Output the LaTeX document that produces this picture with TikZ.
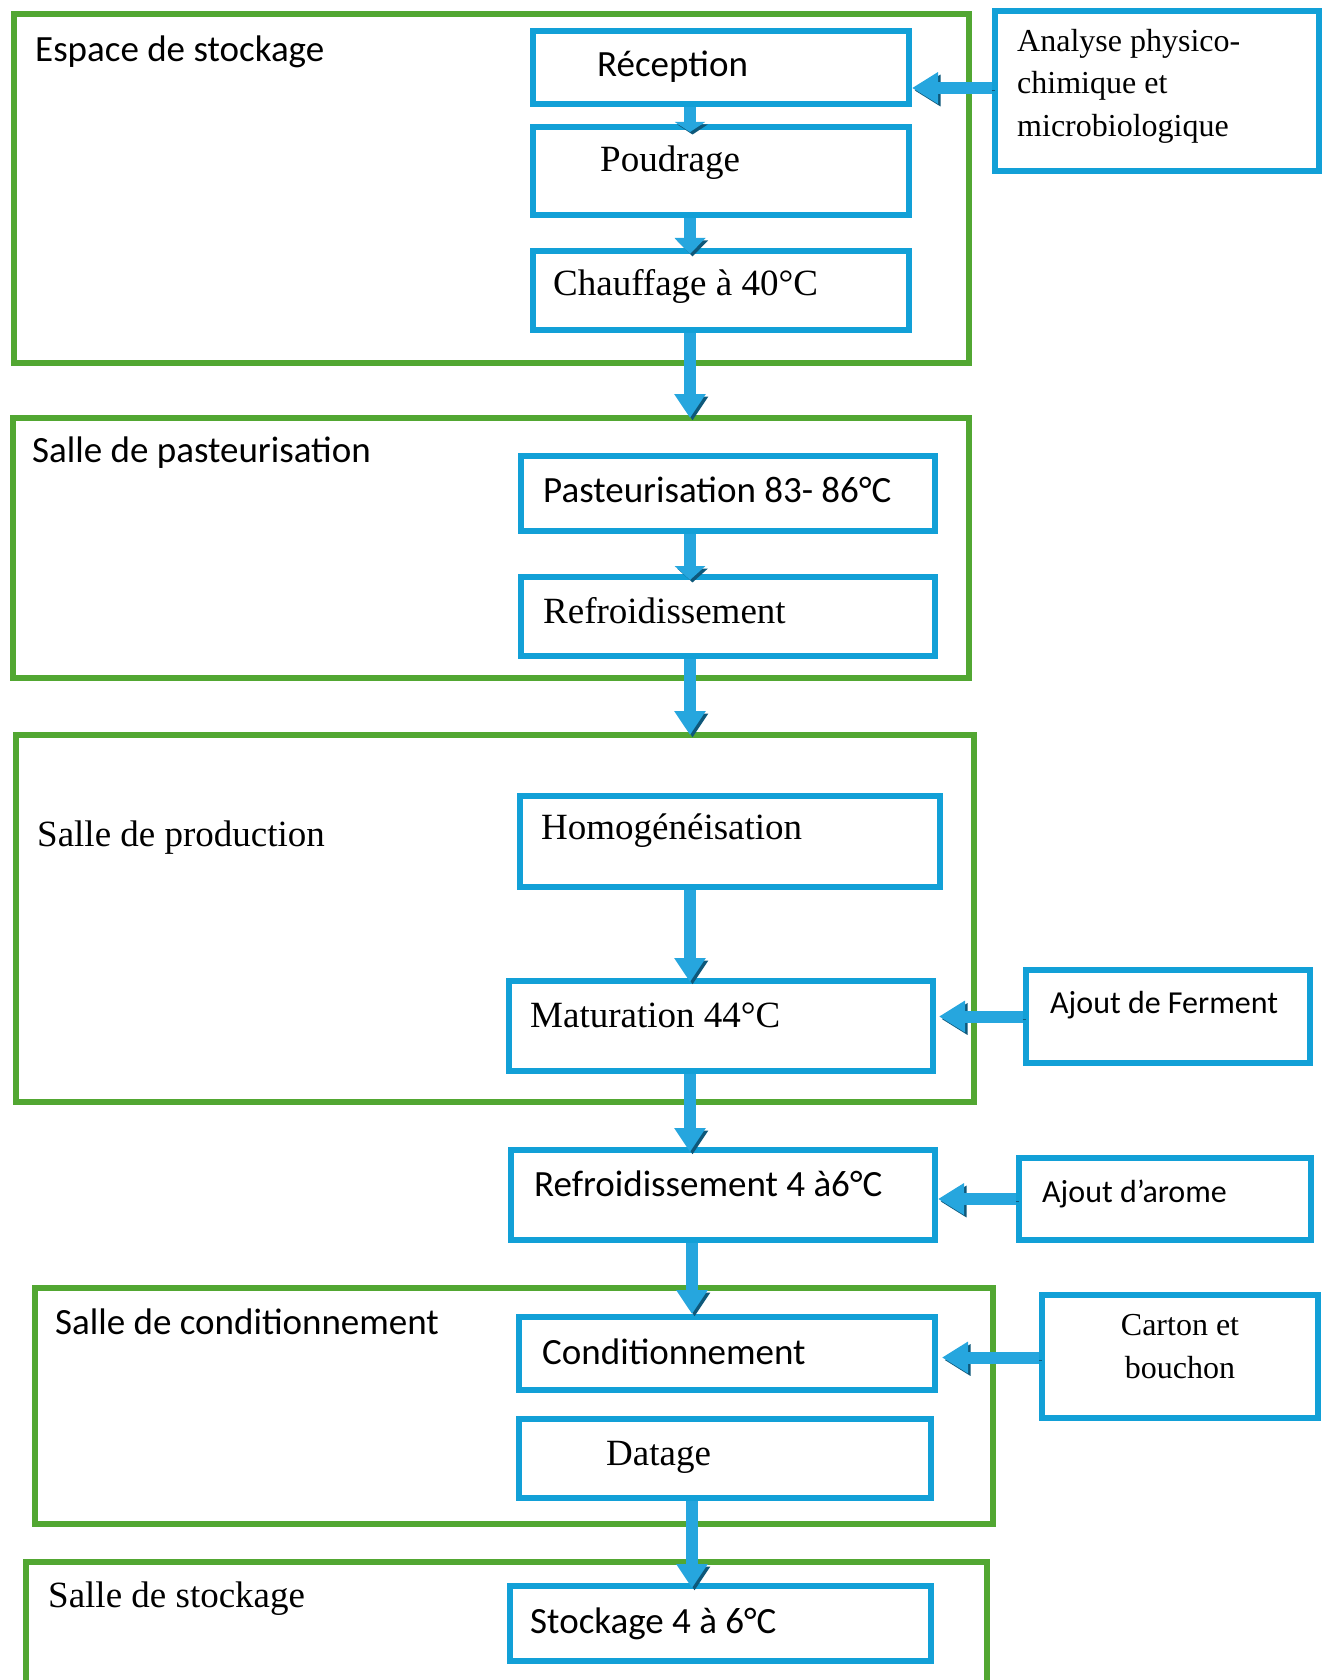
\documentclass[tikz,border=0pt]{standalone}
\usepackage{fontspec}
\setmainfont{Liberation Serif}
\newfontfamily\calfont{Carlito}
\usetikzlibrary{arrows.meta}

\definecolor{boxblue}{RGB}{18,160,215}
\definecolor{roomgreen}{RGB}{82,167,50}
\definecolor{arrowblue}{RGB}{38,166,222}
\definecolor{arrowshade}{RGB}{14,88,122}

\tikzset{
  room/.style={draw=roomgreen, line width=6pt, inner sep=0pt},
  stepbox/.style={draw=boxblue, line width=6pt, inner sep=0pt},
  lbl/.style={anchor=base west, inner sep=0pt, font=\fontsize{37}{44}\selectfont},
  sanslbl/.style={anchor=base west, inner sep=0pt, font=\calfont\fontsize{37}{44}\selectfont},
  smalllbl/.style={anchor=base west, inner sep=0pt, font=\fontsize{32}{38}\selectfont},
  smallsans/.style={anchor=base west, inner sep=0pt, font=\calfont\fontsize{32}{38}\selectfont},
  flow/.style={line width=12pt, draw=arrowblue,
    -{Triangle[width=30pt,length=#1]},
    preaction={draw=arrowshade, transform canvas={shift={(2.5pt,-2.5pt)}}}},
  flow/.default=22pt
}

% frame: style, name, left, top, right, bottom (outer edges, y measured downwards)
\newcommand\frameat[6]{%
  \node[#1, minimum width={(#5-#3-6)*1pt}, minimum height={(#6-#4-6)*1pt}]
    (#2) at ({(#3+#5)/2},{-(#4+#6)/2}) {};}

\begin{document}
\begin{tikzpicture}[x=1pt,y=1pt]
\useasboundingbox (0,0) rectangle (1325,-1680);

% rooms
\frameat{room}{g1}{11}{11}{972}{366}
\frameat{room}{g2}{10}{415}{972}{681}
\frameat{room}{g3}{13}{732}{977}{1105}
\frameat{room}{g4}{32}{1285}{996}{1527}
\frameat{room}{g5}{23}{1559}{990}{1700}

% process steps
\frameat{stepbox}{rec}{530}{28}{912}{107}
\frameat{stepbox}{pou}{530}{124}{912}{218}
\frameat{stepbox}{cha}{530}{248}{912}{333}
\frameat{stepbox}{ana}{992}{8}{1322}{174}
\frameat{stepbox}{pas}{518}{453}{938}{534}
\frameat{stepbox}{ref}{518}{574}{938}{659}
\frameat{stepbox}{hom}{517}{793}{943}{890}
\frameat{stepbox}{mat}{506}{978}{936}{1074}
\frameat{stepbox}{fer}{1023}{967}{1313}{1066}
\frameat{stepbox}{reff}{508}{1147}{938}{1243}
\frameat{stepbox}{aro}{1016}{1155}{1314}{1243}
\frameat{stepbox}{con}{516}{1314}{938}{1393}
\frameat{stepbox}{car}{1039}{1292}{1321}{1421}
\frameat{stepbox}{dat}{516}{1416}{934}{1501}
\frameat{stepbox}{sto}{507}{1583}{934}{1664}

% room titles
\node[sanslbl] (tg1) at (35,-62) {Espace de stockage};
\node[sanslbl] (tg2) at (32,-462) {Salle de pasteurisation};
\node[lbl] (tg3) at (37,-846) {Salle de production};
\node[sanslbl] (tg4) at (55,-1334) {Salle de conditionnement};
\node[lbl] (tg5) at (48,-1607) {Salle de stockage};

% step texts
\node[sanslbl] (trec) at (597,-77) {Réception};
\node[lbl] (tpou) at (600,-172) {Poudrage};
\node[lbl] (tcha) at (553,-295) {Chauffage à 40°C};
\node[smalllbl] (tana1) at (1017,-52) {Analyse physico-};
\node[smalllbl] (tana2) at (1017,-94) {chimique et};
\node[smalllbl] (tana3) at (1017,-137) {microbiologique};
\node[sanslbl] (tpas) at (543,-502) {Pasteurisation 83- 86°C};
\node[lbl] (tref) at (543,-623) {Refroidissement};
\node[lbl] (thom) at (541,-839) {Homogénéisation};
\node[lbl] (tmat) at (530,-1027) {Maturation 44°C};
\node[smallsans] (tfer) at (1050,-1013) {Ajout de Ferment};
\node[sanslbl] (treff) at (534,-1196) {Refroidissement 4 à6°C};
\node[smallsans] (taro) at (1042,-1202) {Ajout d’arome};
\node[sanslbl] (tcon) at (542,-1364) {Conditionnement};
\node[smalllbl, anchor=base] (tcar1) at (1180,-1335) {Carton et};
\node[smalllbl, anchor=base] (tcar2) at (1180,-1378) {bouchon};
\node[lbl] (tdat) at (606,-1465) {Datage};
\node[sanslbl] (tsto) at (530,-1633) {Stockage 4 à 6°C};

% main flow
\coordinate (axis) at (690,0);
\draw[flow=10pt, shorten >=-8pt] (rec.south -| axis) -- (pou.north -| axis);
\draw[flow=16pt, shorten >=-6pt] (pou.south -| axis) -- (cha.north -| axis);
\draw[flow=24pt, shorten >=-3pt] (cha.south -| axis) -- (g2.north -| axis);
\draw[flow=14pt, shorten >=-6pt] (pas.south -| axis) -- (ref.north -| axis);
\draw[flow=24pt, shorten >=-3pt] (ref.south -| axis) -- (g3.north -| axis);
\draw[flow=24pt, shorten >=-4pt] (hom.south -| axis) -- (mat.north -| axis);
\draw[flow=24pt, shorten >=-5pt] (mat.south -| axis) -- (reff.north -| axis);
\draw[flow=24pt] ([xshift=2pt]reff.south -| axis) -- ([xshift=2pt]con.north -| axis);
\draw[flow=24pt, shorten >=-5pt] ([xshift=2pt]dat.south -| axis) -- ([xshift=2pt]sto.north -| axis);

% inputs from the side
\draw[flow=26pt] ([yshift=3pt]ana.west) -- ([yshift=3pt]ana.west -| rec.east);
\draw[flow=26pt, shorten >=3pt] (fer.west) -- (fer.west -| mat.east);
\draw[flow=26pt] (aro.west) -- (aro.west -| reff.east);
\draw[flow=26pt, shorten >=4pt] ([yshift=-1pt]car.west) -- ([yshift=-1pt]car.west -| con.east);
\end{tikzpicture}
\end{document}
